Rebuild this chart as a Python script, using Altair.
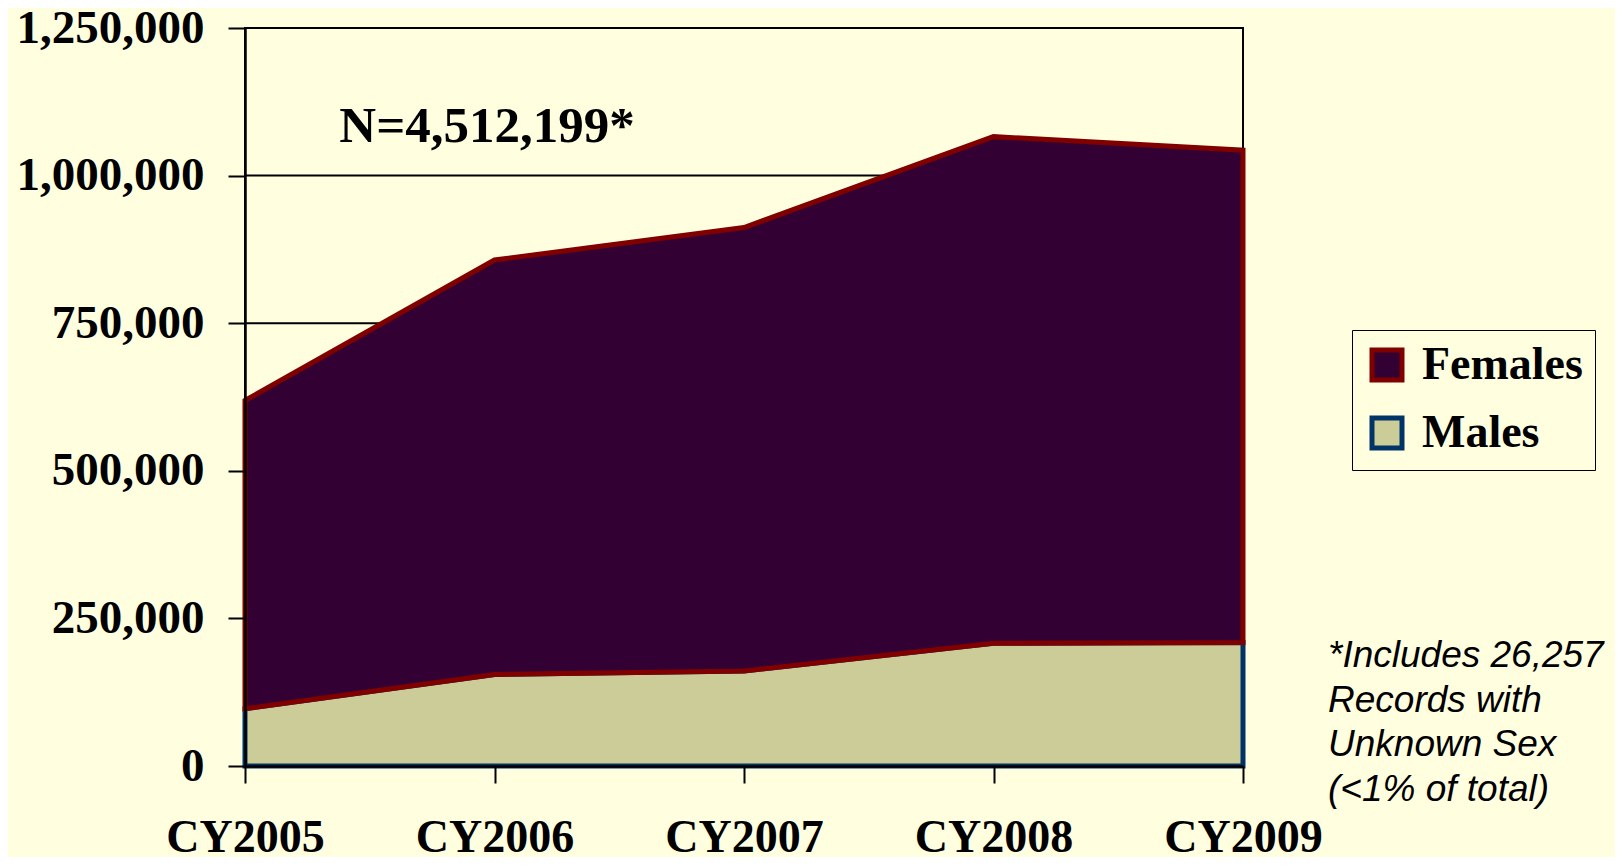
import altair as alt
import pandas as pd

years = ["CY2005", "CY2006", "CY2007", "CY2008", "CY2009"]
males = [97000, 155000, 161000, 208000, 209000]
females = [522000, 702000, 751000, 858000, 834000]
y_ticks = [0, 250000, 500000, 750000, 1000000, 1250000]
series_names = ["Females", "Males"]
fill_colors = ["#330033", "#CCCC99"]
stroke_colors = ["#800000", "#003366"]
n_label = "N=4,512,199*"
footnote = ["*Includes 26,257", "Records with", "Unknown Sex", "(<1% of total)"]

BG = "#FFFFE0"
W, H = 998, 738

df = pd.DataFrame({"year": years, "Males": males, "Females": females})
grid_df = pd.DataFrame({"v": y_ticks})

x_enc = alt.X("year:O", scale=alt.Scale(type="point", padding=0), title=None,
              axis=alt.Axis(labelAngle=0, labelFont="Liberation Serif", labelFontWeight="bold",
                            labelFontSize=46, labelColor="black", labelBaseline="alphabetic",
                            labelPadding=68, tickSize=17, tickWidth=2, tickColor="black",
                            domainColor="black", domainWidth=2.5, grid=False, zindex=1))
y_scale = alt.Scale(domain=[0, 1250000], nice=False)
y_axis = alt.Axis(values=y_ticks, format=",d", labelFont="Liberation Serif", labelFontWeight="bold",
                  labelFontSize=47, labelColor="black", labelPadding=24, tickSize=17,
                  labelLimit=400, tickWidth=2, tickColor="black", domainColor="black",
                  domainWidth=2.5, grid=False, zindex=1)

legend_kw = dict(title=None, orient="none", legendX=1107, legendY=302,
                 symbolType="square", symbolSize=900, symbolStrokeWidth=5,
                 labelFont="Liberation Serif", labelFontWeight="bold",
                 labelFontSize=46, labelColor="black", labelOffset=12, labelLimit=400,
                 rowPadding=18, padding=12, strokeColor="black",
                 fillColor=BG, symbolOpacity=1)
color_enc = alt.Color("series:N", scale=alt.Scale(domain=series_names, range=fill_colors),
                      legend=alt.Legend(**legend_kw))
stroke_enc = alt.Stroke("series:N", scale=alt.Scale(domain=series_names, range=stroke_colors),
                        legend=alt.Legend(**legend_kw))

grid_layer = alt.Chart(grid_df).mark_rule(color="black", strokeWidth=2).encode(
    y=alt.Y("v:Q", scale=y_scale, axis=y_axis, title=None),
)

base = alt.Chart(df)

males_layer = base.transform_calculate(series="'Males'", lo="0", hi="datum.Males").mark_area(
    strokeWidth=5, opacity=1, fillOpacity=1, strokeJoin="miter"
).encode(
    x=x_enc,
    y=alt.Y("hi:Q", scale=y_scale),
    y2="lo:Q",
    color=color_enc,
    stroke=stroke_enc,
)

females_layer = base.transform_calculate(series="'Females'", lo="datum.Males",
                                         hi="datum.Males + datum.Females").mark_area(
    strokeWidth=5, opacity=1, fillOpacity=1, strokeJoin="miter"
).encode(
    x=alt.X("year:O"),
    y=alt.Y("hi:Q", scale=y_scale),
    y2="lo:Q",
    color=color_enc,
    stroke=stroke_enc,
)

n_text = alt.Chart(pd.DataFrame({"t": [n_label]})).mark_text(
    font="Liberation Serif", fontWeight="bold", fontSize=51, color="black",
    align="center", baseline="alphabetic"
).encode(text="t:N", x=alt.value(242), y=alt.value(114))

foot_text = alt.Chart(pd.DataFrame({"t": [footnote]})).mark_text(
    font="Liberation Sans", fontStyle="italic", fontSize=37, color="black",
    align="left", baseline="alphabetic", lineHeight=44.5
).encode(text="t:N", x=alt.value(1083), y=alt.value(639))

chart = alt.layer(grid_layer, males_layer, females_layer, n_text, foot_text).properties(
    width=W, height=H,
    background=BG,
    autosize=alt.AutoSizeParams(type="none"),
    padding={"left": 237, "top": 20, "right": 372, "bottom": 91},
).configure_view(stroke="black", strokeWidth=2).resolve_scale(color="shared", stroke="shared")

chart.save("out.html", embed_options={"renderer": "svg", "actions": False})
